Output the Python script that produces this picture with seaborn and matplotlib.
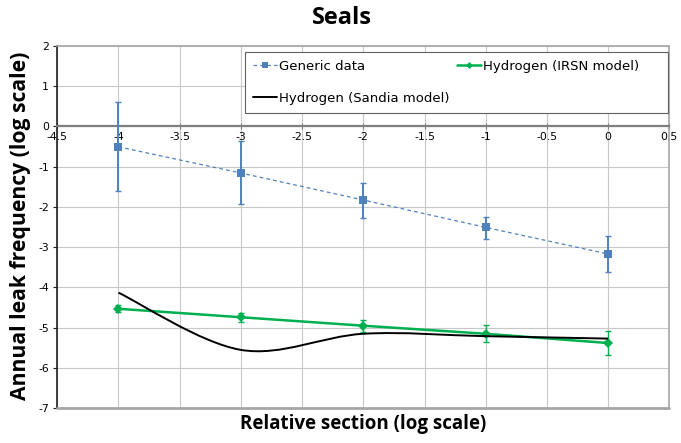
import numpy as np
import pandas as pd
import seaborn as sns
import matplotlib.pyplot as plt
from matplotlib.path import Path
from matplotlib.patches import PathPatch
from matplotlib.lines import Line2D

# data
section = [-4, -3, -2, -1, 0]

generic = [-0.51, -1.16, -1.83, -2.51, -3.17]
generic_hi = [0.60, -0.36, -1.40, -2.24, -2.73]
generic_lo = [-1.61, -1.94, -2.27, -2.79, -3.62]

irsn = [-4.53, -4.74, -4.95, -5.15, -5.38]
irsn_err = [0.09, 0.11, 0.15, 0.21, 0.30]

sandia = [-4.13, -5.55, -5.15, -5.21, -5.27]

xticks = [-4.5, -4, -3.5, -3, -2.5, -2, -1.5, -1, -0.5, 0, 0.5]
yticks = [2, 1, 0, -1, -2, -3, -4, -5, -6, -7]

blue = '#4F81BD'
green = '#00B050'

sns.set_theme(style='whitegrid')
plt.rcParams['font.family'] = ['DejaVu Sans']
plt.rcParams['axes.unicode_minus'] = False
plt.rcParams['text.color'] = 'black'
plt.rcParams['xtick.color'] = 'black'
plt.rcParams['ytick.color'] = 'black'

fig = plt.figure(figsize=(6.81, 4.43), dpi=100)
ax = fig.add_axes([57.3 / 681, 1 - 408.3 / 443, 612 / 681, 362.6 / 443])

df = pd.DataFrame({'x': section, 'generic': generic, 'irsn': irsn,
                   'sandia': sandia})

# generic data with asymmetric error bars
ax.errorbar(df.x, df.generic,
            yerr=[np.array(generic) - np.array(generic_lo),
                  np.array(generic_hi) - np.array(generic)],
            fmt='none', ecolor=blue, elinewidth=1.4, capsize=2.5,
            capthick=1, zorder=3)
sns.lineplot(x='x', y='generic', data=df, ax=ax, color=blue,
             linestyle=(0, (3, 2.5)), linewidth=0.9, marker='s',
             markersize=5.5, markeredgewidth=0, zorder=4)

# IRSN model
ax.errorbar(df.x, df.irsn, yerr=irsn_err, fmt='none', ecolor=green,
            elinewidth=1, capsize=2.5, capthick=1, zorder=3)
sns.lineplot(x='x', y='irsn', data=df, ax=ax, color=green, linewidth=1.8,
             marker='D', markersize=5, markeredgewidth=0, zorder=4)

# Sandia model: smoothed line (Excel style bezier through the points)
pts = np.column_stack([section, sandia])
verts = [pts[0]]
codes = [Path.MOVETO]
for i in range(len(pts) - 1):
    p_prev = pts[max(i - 1, 0)]
    p0 = pts[i]
    p1 = pts[i + 1]
    p_next = pts[min(i + 2, len(pts) - 1)]
    c1 = p0 + (p1 - p_prev) / 6
    c2 = p1 - (p_next - p0) / 6
    verts += [c1, c2, p1]
    codes += [Path.CURVE4] * 3
ax.add_patch(PathPatch(Path(verts, codes), facecolor='none',
                       edgecolor='black', linewidth=1.4, zorder=4))

ax.set_xlim(-4.5, 0.5)
ax.set_ylim(-7, 2)
ax.set_xticks(xticks)
ax.set_yticks(yticks)
ax.set_xticklabels([('%g' % t) for t in xticks])
ax.set_yticklabels([('%g' % t) for t in yticks])

ax.grid(True, color='#c8c8c8', linewidth=0.8)
ax.set_facecolor('white')

# x axis crosses at y = 0
ax.spines['bottom'].set_position(('data', 0))
ax.spines['bottom'].set_color('#7f7f7f')
ax.spines['bottom'].set_linewidth(1.6)
ax.spines['left'].set_color('#202020')
ax.spines['left'].set_linewidth(1.2)
for s in ['top', 'right']:
    ax.spines[s].set_color('#a6a6a6')
    ax.spines[s].set_linewidth(1.2)
    ax.spines[s].set_visible(True)
ax.axhline(-7, color='#a6a6a6', linewidth=2, clip_on=False, zorder=5)

ax.tick_params(axis='x', direction='inout', length=4, width=0.8,
               color='#7f7f7f', labelsize=7.8, pad=2, bottom=True)
ax.tick_params(axis='y', direction='out', length=3, width=0.8,
               color='#202020', labelsize=7.8, pad=3, left=True)

ax.set_xlabel('')
ax.set_ylabel('')
fig.text(342 / 681, 1 - 18 / 443, 'Seals', ha='center',
         va='center', fontsize=17, fontweight='bold', family='Open Sans')
fig.text(363 / 681, 1 - 424 / 443, 'Relative section (log scale)',
         ha='center', va='center', fontsize=13.5, fontweight='bold',
         family='Open Sans')
fig.text(21 / 681, 1 - 226 / 443, 'Annual leak frequency (log scale)',
         ha='center', va='center', rotation=90, fontsize=15.2,
         fontweight='bold', family='Open Sans')

handles = [Line2D([], [], color=blue, linestyle=(0, (3, 2.5)),
                  linewidth=0.9, marker='s', markersize=4,
                  markeredgewidth=0),
           Line2D([], [], color='black', linewidth=1.4),
           Line2D([], [], color=green, linewidth=1.8, marker='D',
                  markersize=3.5, markeredgewidth=0)]
labels = ['Generic data', 'Hydrogen (Sandia model)',
          'Hydrogen (IRSN model)' + ' ' * 5]
leg = ax.legend(handles, labels, ncol=2, loc='upper left',
                bbox_to_anchor=(0.307, 0.983, 0.691, 0.0), mode='expand',
                fontsize=9.5, frameon=True, fancybox=False,
                edgecolor='#606060', framealpha=1, handlelength=1.8,
                handletextpad=0.15, borderpad=0.6, labelspacing=1.45,
                columnspacing=1.0, borderaxespad=0)
leg.get_frame().set_linewidth(0.8)

fig.savefig('out.png', dpi=100)
